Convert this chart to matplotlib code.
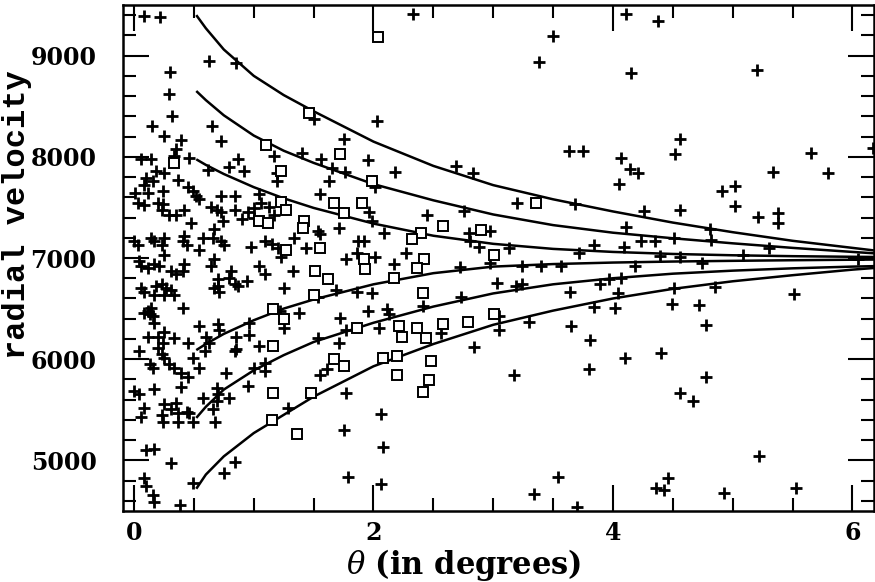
import matplotlib
matplotlib.use('Agg')
import matplotlib.pyplot as plt
from matplotlib.ticker import MultipleLocator

# galaxies plotted as crosses: angular distance (deg) and radial velocity (km/s)
cross_theta = [
    0.08, 0.22, 0.63, 0.85, 0.30, 0.29, 0.32, 0.15, 0.65, 1.50, 2.33, 2.03, 4.11, 4.38, 3.50, 3.38,
    4.15, 5.20, 3.63, 3.75, 4.07, 4.14, 4.21, 4.05, 4.56, 4.52, 5.34, 5.65, 5.80, 6.17, 4.91, 5.02,
    5.02, 5.21, 5.38, 5.38, 4.26, 4.56, 3.20, 3.68, 4.11, 4.81, 4.82, 4.23, 4.35, 4.51, 3.84, 4.09,
    5.30, 3.72, 4.39, 4.56, 5.09, 6.05, 3.24, 3.40, 3.57, 4.18, 4.74, 3.24, 3.64, 3.89, 3.97, 4.07,
    4.04, 3.84, 4.02, 4.51, 4.49, 4.72, 4.85, 5.51, 3.30, 3.65, 3.81, 3.80, 4.10, 4.40, 4.78, 4.78,
    4.56, 4.67, 5.22, 3.54, 3.34, 3.70, 4.46, 4.36, 4.43, 4.93, 5.53, 1.77, 2.06, 1.75, 2.08, 1.79,
    2.06, 1.75, 1.56, 1.95, 2.18, 2.69, 2.83, 1.65, 1.76, 1.63, 2.01, 1.55, 1.96, 1.71, 1.99, 2.45,
    2.76, 2.09, 2.80, 2.81, 2.97, 2.88, 3.13, 1.55, 1.87, 1.92, 1.86, 2.01, 1.77, 2.17, 2.27, 2.97,
    2.72, 3.03, 3.19, 1.54, 1.69, 1.86, 1.99, 2.41, 2.73, 1.95, 2.11, 2.13, 1.72, 1.77, 2.05, 2.56,
    3.05, 3.05, 1.54, 1.71, 2.84, 1.61, 1.55, 3.17, 0.25, 0.39, 0.73, 1.40, 1.17, 0.35, 0.33, 0.46,
    0.87, 0.06, 0.14, 0.62, 0.79, 0.92, 1.19, 1.19, 0.18, 0.25, 0.10, 0.16, 0.37, 0.08, 0.01, 0.12,
    0.24, 0.45, 0.49, 0.52, 0.54, 0.73, 0.84, 1.04, 1.06, 1.13, 0.03, 0.08, 0.20, 0.24, 0.23, 0.64,
    0.69, 0.73, 0.84, 1.00, 0.95, 0.35, 0.42, 0.29, 0.48, 1.00, 0.90, 0.74, 1.17, 1.34, 1.54, 0.67,
    0.66, 0.58, 0.73, 0.75, 0.00, 0.03, 0.14, 0.17, 0.25, 0.23, 0.41, 0.44, 0.42, 0.54, 0.25, 0.98,
    1.09, 1.15, 1.20, 1.23, 1.44, 0.04, 0.67, 0.06, 0.12, 0.17, 0.21, 0.31, 0.35, 0.42, 0.41, 0.64,
    0.81, 0.79, 0.70, 0.70, 0.67, 0.71, 0.84, 0.87, 0.94, 1.04, 1.09, 1.33, 1.25, 0.06, 0.08, 0.18,
    0.23, 0.27, 0.31, 0.33, 0.17, 0.25, 0.41, 0.12, 0.14, 0.16, 0.08, 0.13, 0.17, 0.54, 0.70, 0.71,
    0.96, 1.22, 1.25, 1.38, 0.12, 0.20, 0.25, 0.24, 0.33, 0.45, 0.60, 0.63, 0.85, 0.85, 0.96, 1.04,
    0.04, 0.20, 0.23, 0.25, 0.49, 0.59, 0.84, 1.09, 1.00, 1.09, 0.13, 0.16, 0.29, 0.33, 0.39, 0.45,
    0.54, 0.77, 0.39, 0.95, 0.00, 0.17, 0.69, 0.04, 0.08, 0.25, 0.31, 0.35, 0.37, 0.44, 0.46, 0.49,
    0.23, 0.24, 0.06, 0.37, 0.58, 0.70, 0.79, 0.69, 0.66, 0.68, 1.29, 0.10, 0.17, 0.31, 0.75, 0.84,
    0.49, 0.08, 0.10, 0.16, 0.17, 0.38,
]
cross_v = [
    9395, 9385, 8950, 8930, 8840, 8625, 8405, 8300, 8300, 8375, 9415, 8350, 9415, 9345, 9190, 8940,
    8830, 8860, 8060, 8060, 7990, 7875, 7835, 7735, 8180, 8030, 7845, 8040, 7835, 8090, 7665, 7715,
    7510, 7410, 7440, 7350, 7460, 7470, 7545, 7535, 7310, 7290, 7180, 7170, 7170, 7200, 7125, 7105,
    7095, 7045, 7015, 7005, 7025, 6995, 6925, 6925, 6925, 6925, 6955, 6745, 6660, 6745, 6795, 6805,
    6650, 6520, 6510, 6700, 6550, 6540, 6710, 6640, 6370, 6330, 6185, 5905, 6015, 6065, 6340, 5820,
    5670, 5590, 5040, 4840, 4670, 4535, 4830, 4730, 4710, 4680, 4730, 5670, 5455, 5305, 5135, 4840,
    4770, 8180, 7980, 7970, 7845, 7905, 7835, 7885, 7845, 7765, 7705, 7635, 7450, 7300, 7370, 7420,
    7460, 7250, 7250, 7170, 7270, 7105, 7095, 7240, 7170, 7170, 7045, 7005, 6995, 6945, 7045, 6955,
    6915, 6755, 6725, 6610, 6680, 6660, 6650, 6530, 6610, 6480, 6500, 6450, 6410, 6285, 6310, 6255,
    6430, 6285, 6205, 6165, 6125, 5905, 5840, 5840, 8210, 8170, 8160, 8040, 8010, 8080, 8010, 7990,
    7980, 7980, 7980, 7865, 7895, 7855, 7835, 7765, 7855, 7835, 7795, 7765, 7775, 7725, 7645, 7645,
    7665, 7705, 7665, 7615, 7585, 7615, 7615, 7635, 7545, 7500, 7545, 7520, 7545, 7535, 7470, 7500,
    7470, 7450, 7470, 7490, 7450, 7420, 7470, 7420, 7350, 7400, 7390, 7370, 7420, 7200, 7270, 7290,
    7200, 7200, 7170, 7125, 7170, 7125, 7200, 7170, 7200, 7125, 7170, 7125, 7220, 7075, 7025, 7105,
    7170, 7140, 7095, 7005, 7095, 6975, 6995, 6925, 6905, 6945, 6925, 6875, 6845, 6945, 6875, 6925,
    6875, 6805, 6795, 6725, 6700, 6660, 6745, 6725, 6775, 6925, 6845, 6875, 6700, 6700, 6660, 6725,
    6745, 6705, 6680, 6630, 6630, 6630, 6510, 6480, 6510, 6430, 6460, 6450, 6360, 6330, 6350, 6285,
    6360, 6480, 6305, 6460, 6215, 6215, 6265, 6165, 6205, 6165, 6215, 6165, 6215, 6105, 6235, 6135,
    6085, 6115, 6055, 6015, 6015, 6085, 6085, 5965, 5915, 5885, 5955, 5915, 5955, 5915, 5860, 5820,
    5915, 5860, 5730, 5740, 5690, 5710, 5720, 5660, 5520, 5560, 5510, 5570, 5465, 5475, 5465, 5375,
    5445, 5375, 5425, 5375, 5620, 5660, 5620, 5590, 5510, 5375, 5520, 5100, 5115, 4970, 4880, 4980,
    4780, 4830, 4750, 4655, 4585, 4555,
]

# galaxies plotted as open squares
square_theta = [
    1.46, 2.04, 1.72, 1.99, 1.67, 1.90, 1.75, 2.58, 2.40, 2.32, 2.90, 1.55, 1.92, 2.42, 3.01, 3.36,
    1.93, 2.36, 1.62, 2.17, 2.41, 1.86, 2.21, 2.24, 2.36, 2.58, 2.79, 3.01, 2.44, 2.08, 2.20, 2.48,
    1.67, 1.75, 2.20, 2.46, 2.41, 1.10, 0.33, 1.23, 1.23, 1.27, 1.04, 1.12, 1.42, 1.41, 1.27, 1.51,
    1.16, 1.25, 1.50, 1.16, 1.16, 1.48, 1.15, 1.36,
]
square_v = [
    8435, 9180, 8030, 7765, 7545, 7545, 7440, 7320, 7250, 7190, 7280, 7095, 6995, 6995, 7025, 7545,
    6895, 6905, 6795, 6805, 6650, 6305, 6330, 6215, 6310, 6350, 6370, 6450, 6205, 6015, 6035, 5985,
    6005, 5935, 5840, 5790, 5680, 8120, 7935, 7855, 7555, 7470, 7370, 7350, 7370, 7300, 7075, 6875,
    6500, 6400, 6630, 6135, 5670, 5670, 5395, 5265,
]

# caustic curves
curve_theta = [0.52, 0.6, 0.75, 1.0, 1.25, 1.5, 2.0, 2.5, 3.0, 3.5, 4.0, 4.5, 5.0, 5.5, 6.0, 6.2]
upper_outer = [9400, 9270, 9060, 8800, 8610, 8450, 8150, 7910, 7720, 7580, 7460, 7350, 7255, 7170, 7100, 7072]
upper_mid = [8650, 8560, 8410, 8210, 8060, 7940, 7730, 7570, 7430, 7325, 7250, 7195, 7145, 7100, 7060, 7045]
upper_inner = [7975, 7920, 7830, 7700, 7590, 7495, 7340, 7220, 7140, 7090, 7060, 7040, 7027, 7018, 7012, 7010]
lower_inner = [6090, 6150, 6250, 6385, 6500, 6590, 6740, 6850, 6915, 6940, 6955, 6965, 6972, 6978, 6983, 6985]
lower_mid = [5420, 5530, 5700, 5890, 6040, 6170, 6360, 6520, 6650, 6740, 6800, 6845, 6875, 6898, 6915, 6920]
lower_outer = [4720, 4860, 5040, 5270, 5450, 5630, 5930, 6150, 6340, 6480, 6600, 6695, 6770, 6830, 6885, 6903]

plt.rcParams['mathtext.fontset'] = 'dejavuserif'

fig = plt.figure(figsize=(8.75, 5.82), dpi=100)
ax = fig.add_axes([123 / 875, 1 - 511 / 582, 751 / 875, 506 / 582])

for curve in [upper_outer, upper_mid, upper_inner, lower_inner, lower_mid, lower_outer]:
    ax.plot(curve_theta, curve, color='black', lw=1.8, solid_capstyle='butt')

ax.plot(cross_theta, cross_v, ls='none', marker='+', ms=9, mew=2.0, color='black')
ax.plot(square_theta, square_v, ls='none', marker='s', ms=7, mew=1.4,
        mfc='white', mec='black')

ax.set_xlim(-0.092, 6.18)
ax.set_ylim(4500, 9500)

ax.xaxis.set_major_locator(MultipleLocator(2))
ax.xaxis.set_minor_locator(MultipleLocator(0.5))
ax.yaxis.set_major_locator(MultipleLocator(1000))
ax.yaxis.set_minor_locator(MultipleLocator(200))
ax.tick_params(which='both', direction='in', top=True, right=True, width=1.5, color='black')
ax.tick_params(which='major', length=19)
ax.tick_params(which='minor', length=9.5)
ax.tick_params(axis='x', which='major', pad=7)
ax.tick_params(axis='y', which='major', pad=19)
for lab in ax.get_xticklabels() + ax.get_yticklabels():
    lab.set_family('DejaVu Serif')
    lab.set_weight('bold')
    lab.set_fontsize(17)

for sp in ax.spines.values():
    sp.set_linewidth(1.8)

mono = ['Liberation Mono', 'DejaVu Sans Mono']
ax.set_ylabel('radial velocity', family=mono, weight='bold', fontsize=23, va='center')
ax.yaxis.set_label_coords(-0.141, 0.585)
ax.set_xlabel(r'$\theta$ (in degrees)', family='DejaVu Serif', weight='bold', fontsize=22, va='center')
ax.xaxis.set_label_coords(0.453, -0.106)

fig.savefig('out.png', dpi=100)
